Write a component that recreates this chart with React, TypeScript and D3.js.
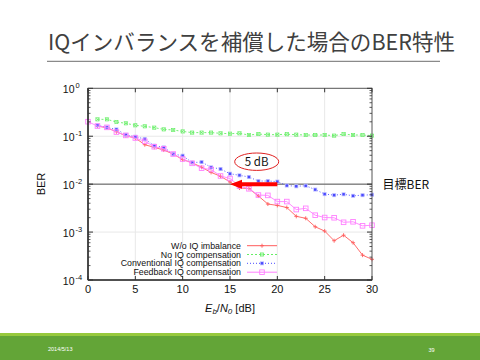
import React from "react";
import * as d3 from "d3";

const snrWoIq = d3.range(1, 31);
const berWoIq = [0.163,0.150,0.124,0.102,0.0917,0.0665,0.0586,0.0515,0.0425,0.0325,0.0280,0.0225,0.0176,0.0146,0.0111,0.0083,0.0081,0.00565,0.00385,0.0036,0.00325,0.00213,0.00194,0.00129,0.00105,0.00066,0.00086,0.0006,0.00033,0.00027];
const snrNoComp = d3.range(1, 31);
const berNoComp = [0.225,0.225,0.198,0.186,0.169,0.161,0.151,0.139,0.135,0.126,0.119,0.119,0.119,0.115,0.113,0.115,0.106,0.111,0.108,0.108,0.110,0.108,0.106,0.106,0.106,0.103,0.111,0.106,0.106,0.103];
const snrConv = d3.range(1, 31);
const berConv = [0.169,0.153,0.139,0.107,0.0977,0.0874,0.0634,0.0586,0.0425,0.0392,0.0282,0.0289,0.0225,0.0207,0.0165,0.0153,0.0141,0.0116,0.0116,0.0113,0.00935,0.00904,0.00926,0.0077,0.0062,0.0059,0.00615,0.0057,0.0059,0.0060];
const snrFb = d3.range(0, 31);
const berFb = [0.201,0.163,0.153,0.122,0.104,0.0917,0.0783,0.0604,0.0548,0.0425,0.0334,0.0272,0.0215,0.0202,0.0148,0.0131,0.00912,0.0080,0.00592,0.00583,0.00433,0.00433,0.00295,0.00313,0.00225,0.00201,0.00199,0.0016,0.00164,0.00135,0.00139];

const xTicks = [0, 5, 10, 15, 20, 25, 30];
const yExps = [0, -1, -2, -3, -4];
const legendLabels = ["W/o IQ imbalance", "No IQ compensation", "Conventional IQ compensation", "Feedback IQ compensation"];
const titleText = "IQインバランスを補償した場合のBER特性";
const targetBer = 0.01;
const gainLabel = "5 dB";
const arrowFrom = 20;
const arrowTo = 15;

const L = 88, R = 372, T = 88.3, B = 280;
const x = d3.scaleLinear().domain([0, 30]).range([L, R]);
const y = d3.scaleLog().domain([1e-4, 1]).range([B, T]);

const COLORS = ["#ff5c5c", "#66ee66", "#4a4aff", "#ff80ff"];

type Series = { xs: number[]; ys: number[]; color: string; dash?: string; marker: string };
const series: Series[] = [
  { xs: snrWoIq, ys: berWoIq, color: COLORS[0], marker: "plus" },
  { xs: snrNoComp, ys: berNoComp, color: COLORS[1], dash: "2,2", marker: "xbox" },
  { xs: snrConv, ys: berConv, color: COLORS[2], dash: "1,2", marker: "fsq" },
  { xs: snrFb, ys: berFb, color: COLORS[3], marker: "osq" },
];

function Marker({ kind, cx, cy, color }: { kind: string; cx: number; cy: number; color: string }) {
  if (kind === "plus")
    return <path d={`M${cx - 2},${cy}H${cx + 2}M${cx},${cy - 2}V${cy + 2}`} stroke={color} strokeWidth={0.9} />;
  if (kind === "xbox")
    return (
      <g stroke={color} strokeWidth={0.7} fill="none">
        <rect x={cx - 1.6} y={cy - 1.6} width={3.2} height={3.2} />
        <path d={`M${cx - 1.6},${cy - 1.6}L${cx + 1.6},${cy + 1.6}M${cx + 1.6},${cy - 1.6}L${cx - 1.6},${cy + 1.6}`} />
      </g>
    );
  if (kind === "fsq")
    return (
      <g>
        <rect x={cx - 2} y={cy - 2} width={4} height={4} fill="#c0c0ff" />
        <rect x={cx - 1.2} y={cy - 1.2} width={2.4} height={2.4} fill={color} />
      </g>
    );
  return <rect x={cx - 2.3} y={cy - 2.3} width={4.6} height={4.6} fill="none" stroke={color} strokeWidth={0.9} />;
}

export default function App() {
  const line = d3.line<[number, number]>().x((d) => x(d[0])).y((d) => y(d[1]));
  const minor: number[] = [];
  for (let e = -4; e < 0; e++) for (let m = 2; m <= 9; m++) minor.push(m * Math.pow(10, e));
  const sans = "'Liberation Sans', Arial, sans-serif";
  const legY = [245.7, 254.5, 263.3, 272.2];
  return (
    <svg width={480} height={360} style={{ position: "absolute", left: 0, top: 0, background: "#fff" }}>
      <text x={48} y={50} fontFamily="'Noto Sans CJK JP', sans-serif" fontSize={21.5} fill="#404040" textLength={407} lengthAdjust="spacingAndGlyphs">{titleText}</text>
      <line x1={47} x2={440} y1={61.3} y2={61.3} stroke="#8a8a8a" strokeWidth={1.3} />

      {/* grid */}
      {xTicks.slice(1, -1).map((t) => (
        <line key={"gx" + t} x1={x(t)} x2={x(t)} y1={T} y2={B} stroke="#e8e8e8" strokeWidth={1} />
      ))}
      {yExps.slice(1, -1).map((e) => (
        <line key={"gy" + e} x1={L} x2={R} y1={y(Math.pow(10, e))} y2={y(Math.pow(10, e))} stroke="#e8e8e8" strokeWidth={1} />
      ))}
      {/* target line */}
      <line x1={L} x2={R} y1={y(targetBer)} y2={y(targetBer)} stroke="#555" strokeWidth={1} />

      {/* series */}
      {series.map((s, i) => (
        <g key={"s" + i}>
          <path d={line(s.xs.map((v, j) => [v, s.ys[j]] as [number, number])) || ""} fill="none" stroke={s.color} strokeWidth={0.9} strokeDasharray={s.dash} />
          {s.xs.map((v, j) => (
            <Marker key={j} kind={s.marker} cx={x(v)} cy={y(s.ys[j])} color={s.color} />
          ))}
        </g>
      ))}

      {/* frame & ticks */}
      <rect x={L} y={T} width={R - L} height={B - T} fill="none" stroke="#555" strokeWidth={1} />
      <line x1={L} x2={L} y1={T} y2={B} stroke="#333" strokeWidth={1.6} />
      <line x1={L} x2={R} y1={B} y2={B} stroke="#333" strokeWidth={1.6} />
      {xTicks.map((t) => (
        <g key={"xt" + t}>
          <line x1={x(t)} x2={x(t)} y1={B} y2={B - 4} stroke="#333" />
          <line x1={x(t)} x2={x(t)} y1={T} y2={T + 4} stroke="#333" />
          <text x={x(t)} y={293} textAnchor="middle" fontFamily={sans} fontSize={11} fill="#111">{t}</text>
        </g>
      ))}
      {minor.map((v, i) => (
        <g key={"mt" + i}>
          <line x1={L} x2={L + 2.5} y1={y(v)} y2={y(v)} stroke="#333" strokeWidth={0.8} />
          <line x1={R} x2={R - 2.5} y1={y(v)} y2={y(v)} stroke="#333" strokeWidth={0.8} />
        </g>
      ))}
      {yExps.map((e) => {
        const yy = y(Math.pow(10, e));
        return (
          <g key={"yt" + e}>
            <line x1={L} x2={L + 5} y1={yy} y2={yy} stroke="#333" />
            <line x1={R} x2={R - 5} y1={yy} y2={yy} stroke="#333" />
            <text x={74.5} y={yy + 5} textAnchor="end" fontFamily={sans} fontSize={10.5} fill="#111">10</text>
            <text x={75.5} y={yy - 0.5} fontFamily={sans} fontSize={7.5} fill="#111">{String(e)}</text>
          </g>
        );
      })}
      <text transform="translate(45,184) rotate(-90)" textAnchor="middle" fontFamily={sans} fontSize={11} fill="#111">BER</text>
      <text x={230} y={312} textAnchor="middle" fontFamily={sans} fontSize={11} fill="#111">
        <tspan fontStyle="italic">E</tspan>
        <tspan fontStyle="italic" fontSize={8} dy={2}>b</tspan>
        <tspan dy={-2}>/</tspan>
        <tspan fontStyle="italic">N</tspan>
        <tspan fontStyle="italic" fontSize={8} dy={2}>0</tspan>
        <tspan dy={-2}> [dB]</tspan>
      </text>

      {/* legend */}
      {legendLabels.map((lab, i) => (
        <g key={"lg" + i}>
          <text x={241} y={legY[i] + 3} textAnchor="end" fontFamily={sans} fontSize={8.8} fill="#111">{lab}</text>
          <line x1={247} x2={277} y1={legY[i]} y2={legY[i]} stroke={series[i].color} strokeWidth={1} strokeDasharray={series[i].dash} />
          <Marker kind={series[i].marker} cx={262} cy={legY[i]} color={series[i].color} />
        </g>
      ))}

      {/* annotation */}
      <ellipse cx={256.7} cy={161.7} rx={22} ry={8.7} fill="#fff" stroke="#e02020" strokeWidth={1} />
      <text x={256.7} y={165.8} textAnchor="middle" fontFamily="'Noto Sans CJK JP', sans-serif" fontSize={11.5} fill="#111">{gainLabel}</text>
      <line x1={x(arrowFrom)} x2={x(arrowTo) + 10} y1={y(targetBer)} y2={y(targetBer)} stroke="#ff0000" strokeWidth={4} />
      <path d={`M${x(arrowTo)},${y(targetBer)}L${x(arrowTo) + 12},${y(targetBer) - 4.5}L${x(arrowTo) + 12},${y(targetBer) + 4.5}Z`} fill="#ff0000" />
      <text x={382.5} y={188.5} fontFamily="'Noto Sans CJK JP', sans-serif" fontSize={12} fill="#111">目標BER</text>

      {/* footer */}
      <rect x={0} y={333} width={480} height={3} fill="#97c93d" />
      <rect x={0} y={336} width={480} height={24} fill="#63a537" />
      <text x={48} y={351} fontFamily={sans} fontSize={5.5} fill="#fff">2014/5/13</text>
      <text x={428.5} y={352} fontFamily={sans} fontSize={5.5} fill="#fff">39</text>
    </svg>
  );
}
